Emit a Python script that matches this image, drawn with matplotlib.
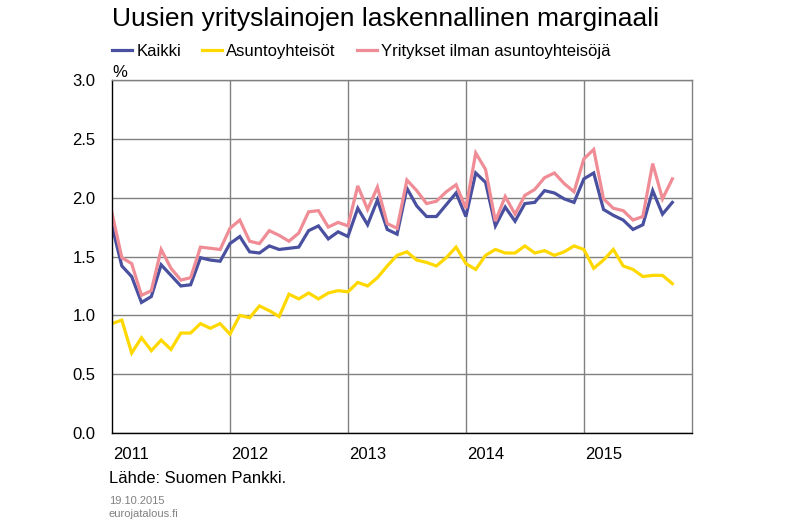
import numpy as np
import matplotlib
matplotlib.use("Agg")
import matplotlib.pyplot as plt

plt.rcParams['font.family'] = ['Liberation Sans Narrow', 'Liberation Sans', 'DejaVu Sans']

## Data: monthly, Jan 2011 ->
kaikki = [1.76, 1.42, 1.33, 1.11, 1.16, 1.43, 1.34, 1.25, 1.26, 1.49, 1.47, 1.46,
          1.61, 1.67, 1.54, 1.53, 1.59, 1.56, 1.57, 1.58, 1.72, 1.76, 1.65, 1.71,
          1.67, 1.91, 1.77, 1.98, 1.73, 1.69, 2.08, 1.93, 1.84, 1.84, 1.94, 2.04,
          1.84, 2.21, 2.13, 1.76, 1.92, 1.80, 1.95, 1.96, 2.06, 2.04, 1.99, 1.96,
          2.16, 2.21, 1.90, 1.85, 1.81, 1.73, 1.77, 2.06, 1.86, 1.96]
asunto = [0.93, 0.96, 0.68, 0.81, 0.70, 0.79, 0.71, 0.85, 0.85, 0.93, 0.89, 0.93,
          0.84, 1.00, 0.98, 1.08, 1.04, 0.99, 1.18, 1.14, 1.19, 1.14, 1.19, 1.21,
          1.20, 1.28, 1.25, 1.32, 1.42, 1.51, 1.54, 1.47, 1.45, 1.42, 1.49, 1.58,
          1.44, 1.39, 1.51, 1.56, 1.53, 1.53, 1.59, 1.53, 1.55, 1.51, 1.54, 1.59,
          1.56, 1.40, 1.47, 1.56, 1.42, 1.39, 1.33, 1.34, 1.34, 1.27]
yritykset = [1.87, 1.49, 1.44, 1.17, 1.21, 1.56, 1.40, 1.30, 1.32, 1.58, 1.57, 1.56,
             1.74, 1.81, 1.63, 1.61, 1.72, 1.68, 1.63, 1.70, 1.88, 1.89, 1.75, 1.79,
             1.76, 2.10, 1.90, 2.09, 1.78, 1.74, 2.15, 2.06, 1.95, 1.97, 2.05, 2.11,
             1.91, 2.38, 2.24, 1.80, 2.01, 1.86, 2.02, 2.07, 2.17, 2.21, 2.12, 2.05,
             2.33, 2.41, 1.99, 1.91, 1.89, 1.81, 1.84, 2.29, 1.99, 2.16]
years = ['2011', '2012', '2013', '2014', '2015']
labels = ['Kaikki', 'Asuntoyhteisöt', 'Yritykset ilman asuntoyhteisöjä']
colors = ['#4a50a0', '#ffd800', '#ef8c95']

x = np.arange(len(kaikki))

fig = plt.figure(figsize=(8, 5.23), dpi=100)
ax = fig.add_axes([0.14, 0.172, 0.725, 0.675])

for series, lab, col in zip([kaikki, asunto, yritykset], labels, colors):
    ax.plot(x, series, color=col, lw=2.3, label=lab, solid_joinstyle='miter')

ax.set_xlim(0, 59)
ax.set_ylim(0, 3)
ax.set_yticks(np.arange(0, 3.01, 0.5))
ax.set_yticklabels([f"{v:.1f}" for v in np.arange(0, 3.01, 0.5)], fontsize=12)
ax.set_xticks([12, 24, 36, 48])
ax.set_xticklabels([])
ax.grid(True, color='#808080', lw=1)
ax.tick_params(length=0, pad=12)
for s in ax.spines.values():
    s.set_color('black')
    s.set_linewidth(1)
ax.spines['right'].set_color('#808080')
ax.spines['top'].set_color('#808080')

# year labels at start of each year
for i, yr in enumerate(years):
    ax.text(i * 12 + 0.1, -0.12, yr, fontsize=12, ha='left', va='top',
            transform=ax.transData)

fig.text(0.14, 0.963, 'Uusien yrityslainojen laskennallinen marginaali',
         fontsize=19, ha='left', va='center')
fig.legend(loc='upper left', bbox_to_anchor=(0.132, 0.929), ncol=3,
           frameon=False, fontsize=12, handlelength=1.2, handletextpad=0.25,
           columnspacing=1.25, borderaxespad=0)
fig.text(0.14, 0.862, '%', fontsize=12, ha='left', va='center')
fig.text(0.136, 0.086, 'Lähde: Suomen Pankki.', fontsize=12, ha='left', va='center')
fig.text(0.136, 0.043, '19.10.2015', fontsize=8, color='#808080', ha='left', va='center')
fig.text(0.136, 0.017, 'eurojatalous.fi', fontsize=8, color='#808080', ha='left', va='center')

fig.savefig('out.png', dpi=100)
